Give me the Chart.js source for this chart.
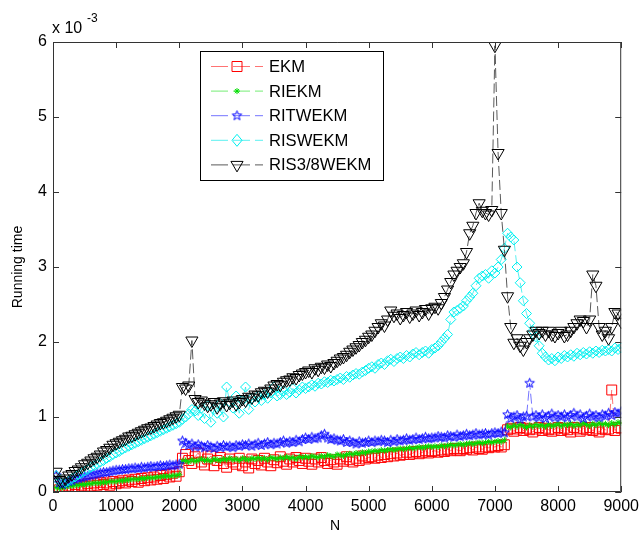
<!DOCTYPE html>
<html>
<head>
<meta charset="utf-8">
<script src="https://cdn.jsdelivr.net/npm/chart.js@4.4.1/dist/chart.umd.min.js"></script>
<style>
  html,body{margin:0;padding:0;background:#fff}
  #wrap{width:644px;height:533px;position:relative}
</style>
</head>
<body>
<div id="wrap"><canvas id="c" width="644" height="533"></canvas></div>
<script>
// problem size N = 50:50:9000
const N = Array.from({length:180}, (_,i) => 50 + 50*i);

// running time, in units of 1e-3 (axis shows "x 10^-3")
const ekm = [
  0.07,0.03,0.05,0.04,0.08,0.06,0.10,0.05,0.09,0.07,0.11,0.08,0.12,0.09,0.13,0.10,0.12,0.09,0.14,0.11,
  0.13,0.15,0.12,0.16,0.14,0.17,0.13,0.18,0.15,0.19,0.16,0.20,0.17,0.22,0.18,0.23,0.20,0.25,0.21,0.27,
  0.45,0.50,0.42,0.38,0.47,0.52,0.40,0.36,0.44,0.48,0.35,0.42,0.46,0.38,0.33,0.44,0.40,0.37,0.45,0.35,
  0.40,0.32,0.44,0.38,0.42,0.36,0.45,0.40,0.35,0.43,0.39,0.47,0.41,0.37,0.44,0.40,0.46,0.42,0.38,0.45,
  0.41,0.37,0.44,0.40,0.46,0.42,0.38,0.43,0.40,0.37,0.44,0.41,0.47,0.43,0.40,0.45,0.42,0.48,0.44,0.46,
  0.47,0.45,0.49,0.46,0.50,0.47,0.51,0.48,0.52,0.49,0.50,0.53,0.50,0.52,0.54,0.51,0.53,0.55,0.52,0.54,
  0.55,0.53,0.56,0.54,0.57,0.55,0.58,0.56,0.55,0.58,0.57,0.59,0.56,0.60,0.58,0.57,0.60,0.59,0.61,0.60,
  0.62,0.60,0.63,0.83,0.85,0.81,0.84,0.86,0.82,0.85,0.83,0.80,0.84,0.86,0.82,0.85,0.83,0.81,0.84,0.86,
  0.82,0.85,0.83,0.80,0.86,0.84,0.81,0.85,0.83,0.86,0.82,0.84,0.80,0.85,0.83,0.84,1.36,0.82,0.86,0.85
];
const riekm = [
  0.06,0.05,0.06,0.07,0.08,0.08,0.09,0.09,0.10,0.10,0.11,0.11,0.12,0.12,0.12,0.13,0.13,0.14,0.14,0.14,
  0.15,0.15,0.16,0.16,0.17,0.17,0.17,0.18,0.18,0.19,0.19,0.19,0.20,0.20,0.21,0.21,0.21,0.22,0.22,0.23,
  0.41,0.42,0.40,0.43,0.41,0.42,0.44,0.42,0.43,0.41,0.44,0.43,0.42,0.44,0.43,0.45,0.43,0.44,0.42,0.45,
  0.44,0.43,0.45,0.44,0.46,0.44,0.45,0.43,0.46,0.45,0.44,0.46,0.45,0.47,0.45,0.46,0.44,0.47,0.46,0.47,
  0.46,0.48,0.47,0.46,0.48,0.47,0.49,0.48,0.47,0.50,0.49,0.48,0.50,0.51,0.50,0.52,0.51,0.53,0.52,0.54,
  0.54,0.55,0.54,0.56,0.55,0.56,0.57,0.56,0.57,0.58,0.57,0.58,0.59,0.58,0.59,0.60,0.59,0.60,0.61,0.60,
  0.61,0.60,0.62,0.61,0.62,0.63,0.62,0.63,0.64,0.63,0.64,0.65,0.64,0.65,0.66,0.65,0.66,0.67,0.66,0.67,
  0.68,0.67,0.69,0.88,0.86,0.89,0.87,0.90,0.88,0.86,0.89,0.87,0.90,0.88,0.89,0.87,0.90,0.88,0.89,0.91,
  0.88,0.90,0.89,0.91,0.88,0.90,0.89,0.92,0.90,0.88,0.91,0.89,0.92,0.90,0.91,0.89,0.92,0.90,0.93,0.92
];
const ritwekm = [
  0.22,0.12,0.10,0.12,0.14,0.15,0.17,0.18,0.19,0.20,0.21,0.22,0.23,0.24,0.25,0.26,0.26,0.27,0.28,0.29,
  0.29,0.30,0.30,0.31,0.31,0.32,0.31,0.33,0.32,0.33,0.34,0.33,0.34,0.35,0.34,0.35,0.36,0.35,0.36,0.37,
  0.68,0.65,0.62,0.64,0.60,0.63,0.61,0.59,0.62,0.60,0.58,0.61,0.59,0.62,0.60,0.61,0.59,0.62,0.61,0.63,
  0.62,0.64,0.61,0.63,0.65,0.62,0.64,0.66,0.63,0.65,0.64,0.66,0.68,0.65,0.67,0.66,0.69,0.67,0.70,0.72,
  0.70,0.73,0.71,0.72,0.75,0.77,0.72,0.70,0.71,0.69,0.68,0.70,0.66,0.68,0.66,0.64,0.67,0.65,0.66,0.68,
  0.66,0.68,0.67,0.69,0.68,0.66,0.69,0.67,0.70,0.68,0.69,0.71,0.69,0.70,0.72,0.70,0.71,0.73,0.71,0.72,
  0.72,0.74,0.73,0.72,0.75,0.74,0.73,0.76,0.74,0.75,0.77,0.75,0.76,0.78,0.76,0.77,0.78,0.76,0.78,0.79,
  0.78,0.80,0.79,1.03,0.98,1.00,1.02,0.97,1.00,1.01,1.45,1.00,1.02,0.99,1.03,0.98,1.01,1.04,0.99,1.02,
  1.00,1.03,0.99,1.02,1.05,1.00,1.03,0.98,1.01,1.04,1.00,1.02,0.99,1.03,1.01,1.05,1.02,1.06,1.04,1.07
];
const riswekm = [
  0.22,0.14,0.12,0.13,0.15,0.18,0.20,0.23,0.25,0.28,0.30,0.33,0.35,0.37,0.40,0.42,0.45,0.47,0.50,0.52,
  0.54,0.57,0.59,0.61,0.63,0.65,0.67,0.69,0.71,0.73,0.75,0.77,0.79,0.81,0.83,0.85,0.87,0.89,0.91,0.93,
  0.97,1.00,1.04,1.10,1.08,1.02,1.12,0.98,1.15,0.93,1.10,1.05,1.18,1.00,1.40,1.20,1.12,1.28,1.05,1.22,
  1.40,1.10,1.25,1.20,1.28,1.22,1.30,1.25,1.32,1.40,1.28,1.30,1.35,1.30,1.33,1.38,1.32,1.36,1.40,1.38,
  1.40,1.43,1.41,1.45,1.44,1.47,1.46,1.49,1.48,1.50,1.52,1.50,1.54,1.53,1.56,1.58,1.57,1.60,1.62,1.65,
  1.67,1.65,1.70,1.72,1.70,1.75,1.77,1.74,1.78,1.80,1.78,1.82,1.80,1.84,1.86,1.83,1.86,1.88,1.85,1.90,
  1.92,1.95,2.00,2.05,2.10,2.30,2.40,2.42,2.45,2.48,2.55,2.60,2.65,2.75,2.85,2.88,2.90,2.85,2.95,2.92,
  3.00,3.10,3.25,3.45,3.40,3.36,3.00,2.79,2.55,2.38,2.25,2.15,2.07,1.95,1.85,1.80,1.76,1.78,1.75,1.80,
  1.78,1.82,1.80,1.83,1.81,1.85,1.83,1.86,1.84,1.87,1.85,1.88,1.86,1.89,1.88,1.90,1.88,1.92,1.90,1.92
];
const ris38wekm = [
  0.27,0.16,0.14,0.18,0.22,0.24,0.28,0.30,0.33,0.37,0.39,0.42,0.45,0.47,0.50,0.54,0.56,0.59,0.63,0.65,
  0.67,0.69,0.71,0.74,0.75,0.77,0.79,0.81,0.83,0.85,0.86,0.88,0.90,0.92,0.93,0.95,0.97,0.99,1.01,1.03,
  1.40,1.38,1.42,2.02,1.24,1.20,1.22,1.18,1.15,1.17,1.20,1.13,1.18,1.21,1.16,1.19,1.22,1.17,1.20,1.24,
  1.22,1.27,1.26,1.30,1.29,1.33,1.35,1.34,1.38,1.42,1.44,1.43,1.47,1.49,1.50,1.53,1.52,1.56,1.58,1.60,
  1.62,1.60,1.65,1.63,1.67,1.66,1.70,1.68,1.72,1.75,1.78,1.80,1.83,1.87,1.90,1.93,1.96,2.00,2.03,2.07,
  2.10,2.15,2.20,2.25,2.22,2.30,2.42,2.35,2.38,2.32,2.36,2.40,2.34,2.38,2.42,2.36,2.40,2.44,2.38,2.45,
  2.47,2.45,2.52,2.60,2.70,2.80,2.90,2.95,3.00,3.05,3.20,3.45,3.55,3.72,3.85,3.75,3.72,3.70,3.76,5.95,
  4.52,3.72,3.23,2.61,2.20,1.99,2.05,1.95,1.90,2.00,2.05,2.10,2.15,2.12,2.15,2.10,2.15,2.10,2.08,2.12,
  2.15,2.08,2.10,2.15,2.20,2.25,2.30,2.28,2.20,2.30,2.90,2.75,2.20,2.10,2.15,2.05,2.20,2.40,2.38,2.27
];

const labels = ['EKM','RIEKM','RITWEKM','RISWEKM','RIS3/8WEKM'];
const xTicks = [0,1000,2000,3000,4000,5000,6000,7000,8000,9000];
const yTicks = [0,1,2,3,4,5,6];

const FONT = '"Liberation Sans", Arial, sans-serif';

// hollow five-point star like matlab 'p'
function pentagram(color, r){
  const c = document.createElement('canvas');
  const s = Math.ceil(2*r + 3);
  c.width = s; c.height = s;
  const g = c.getContext('2d');
  g.strokeStyle = color; g.lineWidth = 1;
  g.beginPath();
  for(let i=0;i<10;i++){
    const rr = i%2 ? r*0.42 : r;
    const a = -Math.PI/2 + i*Math.PI/5;
    const px = s/2 + rr*Math.cos(a), py = s/2 + rr*Math.sin(a);
    if(i) g.lineTo(px,py); else g.moveTo(px,py);
  }
  g.closePath(); g.stroke();
  return c;
}
const starImg = pentagram('#0000ff', 5);

const styles = [
  {color:'#ff0000', line:'rgba(255,0,0,0.55)',  point:'rect',     r:7,   rot:0,   order:4},
  {color:'#00dd00', line:'rgba(0,220,0,0.55)',  point:'star',     r:3,   rot:0,   order:3},
  {color:'#0000ff', line:'rgba(0,0,255,0.55)',  point:starImg,    r:5,   rot:0,   order:2},
  {color:'#00f0f0', line:'rgba(0,230,230,0.65)',point:'rectRot',  r:5,   rot:0,   order:1},
  {color:'#000000', line:'rgba(0,0,0,0.65)',    point:'triangle', r:7,   rot:180, order:0}
];
const series = [ekm, riekm, ritwekm, riswekm, ris38wekm];

const datasets = series.map((arr,k)=>({
  label: labels[k],
  data: N.map((n,i)=>({x:n, y:arr[i]})),
  borderColor: styles[k].line,
  borderWidth: 1,
  borderDash: [10,4],
  pointStyle: styles[k].point,
  pointRadius: styles[k].r,
  pointRotation: styles[k].rot,
  pointBorderColor: styles[k].color,
  pointBackgroundColor: 'rgba(0,0,0,0)',
  pointBorderWidth: 1,
  order: styles[k].order,
  tension: 0,
  fill: false
}));

function legendMarker(ctx, k, x, y){
  const st = styles[k];
  ctx.strokeStyle = st.color; ctx.lineWidth = 1; ctx.setLineDash([]);
  ctx.beginPath();
  if(k===0){ ctx.rect(x-5, y-5, 10, 10); }
  else if(k===1){
    const r = st.r;
    ctx.moveTo(x-r,y); ctx.lineTo(x+r,y); ctx.moveTo(x,y-r); ctx.lineTo(x,y+r);
    const d = r*Math.SQRT1_2;
    ctx.moveTo(x-d,y-d); ctx.lineTo(x+d,y+d); ctx.moveTo(x-d,y+d); ctx.lineTo(x+d,y-d);
  }
  else if(k===2){ ctx.drawImage(starImg, x-starImg.width/2, y-starImg.height/2); }
  else if(k===3){ ctx.moveTo(x-5,y); ctx.lineTo(x,y-6); ctx.lineTo(x+5,y); ctx.lineTo(x,y+6); ctx.closePath(); }
  else { const r=st.r, s=r*Math.sin(Math.PI/3); ctx.moveTo(x,y+r); ctx.lineTo(x-s,y-r/2); ctx.lineTo(x+s,y-r/2); ctx.closePath(); }
  ctx.stroke();
}

const decor = {
  id: 'decor',
  afterDraw(chart){
    const {ctx, chartArea:a, scales:{x, y}} = chart;
    ctx.save();
    // box + inward ticks
    ctx.strokeStyle = '#333'; ctx.lineWidth = 1; ctx.setLineDash([]);
    ctx.beginPath();
    ctx.rect(a.left+0.5, a.top+0.5, a.right-a.left-1, a.bottom-a.top-1);
    xTicks.forEach(v=>{
      const px = Math.round(x.getPixelForValue(v))+0.5;
      ctx.moveTo(px, a.bottom); ctx.lineTo(px, a.bottom-6);
      ctx.moveTo(px, a.top); ctx.lineTo(px, a.top+6);
    });
    yTicks.forEach(v=>{
      const py = Math.round(y.getPixelForValue(v))+0.5;
      ctx.moveTo(a.left, py); ctx.lineTo(a.left+6, py);
      ctx.moveTo(a.right, py); ctx.lineTo(a.right-6, py);
    });
    ctx.stroke();

    // axis labels
    ctx.fillStyle = '#000';
    ctx.font = '14px ' + FONT;
    ctx.textAlign = 'center'; ctx.textBaseline = 'middle';
    ctx.fillText('N', 335, 526);
    ctx.save();
    ctx.translate(18, 267);
    ctx.rotate(-Math.PI/2);
    ctx.fillText('Running time', 0, 0);
    ctx.restore();

    // exponent
    ctx.textAlign = 'left'; ctx.textBaseline = 'alphabetic';
    ctx.font = '16px ' + FONT;
    ctx.fillText('x 10', 52, 33);
    ctx.font = '12px ' + FONT;
    ctx.fillText('-3', 87, 22);

    // legend
    const L = 200.5, T = 51.5, W = 183, H = 129;
    ctx.fillStyle = '#fff';
    ctx.fillRect(L, T, W, H);
    ctx.strokeStyle = '#000';
    ctx.strokeRect(L, T, W, H);
    ctx.font = '16.6px ' + FONT;
    ctx.textBaseline = 'middle';
    labels.forEach((lab,k)=>{
      const yy = 66.5 + k*24.6;
      ctx.strokeStyle = styles[k].line;
      ctx.setLineDash([17,5]);
      ctx.beginPath(); ctx.moveTo(211, yy); ctx.lineTo(263, yy); ctx.stroke();
      legendMarker(ctx, k, 237, yy);
      ctx.fillStyle = '#000';
      ctx.fillText(lab, 269, yy+1);
    });
    ctx.restore();
  }
};

new Chart(document.getElementById('c'), {
  type: 'line',
  data: { datasets },
  options: {
    responsive: false,
    animation: false,
    events: [],
    layout: { padding: { left: 0, right: 20, top: 42, bottom: 0 } },
    plugins: { legend: { display: false }, tooltip: { enabled: false } },
    scales: {
      x: {
        type: 'linear', min: 0, max: 9000,
        afterBuildTicks: s => { s.ticks = xTicks.map(v=>({value:v})); },
        afterFit: s => { s.height = 41; },
        grid: { display: false, drawTicks: false },
        border: { display: false },
        ticks: { color:'#000', font:{family:FONT, size:16}, padding:5, maxRotation:0, autoSkip:false, callback: v => String(v) }
      },
      y: {
        type: 'linear', min: 0, max: 6,
        afterBuildTicks: s => { s.ticks = yTicks.map(v=>({value:v})); },
        afterFit: s => { s.width = 53; },
        grid: { display: false, drawTicks: false },
        border: { display: false },
        ticks: { color:'#000', font:{family:FONT, size:16}, padding:6, callback: v => String(v) }
      }
    }
  },
  plugins: [decor]
});
</script>
</body>
</html>
